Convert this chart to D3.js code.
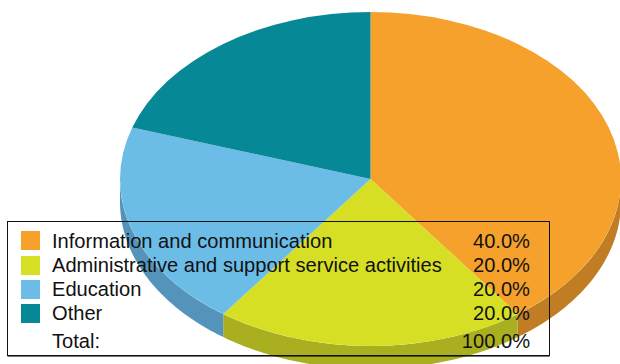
<!DOCTYPE html>
<html>
<head>
<meta charset="utf-8">
<script src="https://cdn.jsdelivr.net/npm/d3@7/dist/d3.min.js"></script>
<style>
html,body{margin:0;padding:0;background:#fff;}
svg{display:block;}
text{font-family:"Liberation Sans",Arial,sans-serif;font-size:20.1px;fill:#111;}
</style>
</head>
<body>
<svg id="chart" width="620" height="364"></svg>
<script>
const categories = ["Information and communication","Administrative and support service activities","Education","Other"];
const values = [40,20,20,20];
const topColors = ["#F5A12B","#D6DF23","#6CBCE8","#078896"];
const sideColors = ["#C07D23","#A9AF1E","#5594BA","#06707B"];
const valueLabels = ["40.0%","20.0%","20.0%","20.0%"];
const totalLabel = "Total:";
const totalValue = "100.0%";

const W=620,H=364,cx=370.5,cy=179,rx=250.5,ry=167,depth=23;
const svg=d3.select("#chart");
const arcs=d3.pie().sort(null)(values);
const scaleY=ry/rx;
const px=a=>cx+rx*Math.sin(a), py=a=>cy-ry*Math.cos(a);

const sideG=svg.append("g");
arcs.forEach((d,i)=>{
  const a0=Math.max(d.startAngle,Math.PI/2), a1=Math.min(d.endAngle,3*Math.PI/2);
  if(a1<=a0) return;
  const angles=d3.range(0,61).map(k=>a0+(a1-a0)*k/60);
  const pts=angles.map(a=>[px(a),py(a)]).concat(angles.slice().reverse().map(a=>[px(a),py(a)+depth]));
  sideG.append("path").attr("d",d3.line()(pts)+"Z").attr("fill",sideColors[i]);
});

const arc=d3.arc().innerRadius(0).outerRadius(rx);
svg.append("g").attr("transform",`translate(${cx},${cy}) scale(1,${scaleY})`)
  .selectAll("path").data(arcs).join("path")
  .attr("d",arc).attr("fill",(d,i)=>topColors[i]);

const box={x:7.5,y:221.5,w:542,h:134};
svg.append("line").attr("x1",box.x).attr("x2",box.x+box.w).attr("y1",box.y+box.h+1).attr("y2",box.y+box.h+1)
  .attr("stroke","#000").attr("stroke-opacity",0.55);
svg.append("rect").attr("x",box.x).attr("y",box.y).attr("width",box.w).attr("height",box.h)
  .attr("fill","none").attr("stroke","#111").attr("stroke-width",1);

const baselines=[247.5,271.5,296,320];
const swatchY=[231,256,280,304];
const leg=svg.append("g");
categories.forEach((c,i)=>{
  leg.append("rect").attr("x",21).attr("y",swatchY[i]).attr("width",19).attr("height",19).attr("fill",topColors[i]);
  leg.append("text").attr("x",52).attr("y",baselines[i]).text(c);
  leg.append("text").attr("x",530).attr("y",baselines[i]).attr("text-anchor","end").text(valueLabels[i]);
});
leg.append("text").attr("x",52).attr("y",347.5).text(totalLabel);
leg.append("text").attr("x",530).attr("y",347.5).attr("text-anchor","end").text(totalValue);
</script>
</body>
</html>
